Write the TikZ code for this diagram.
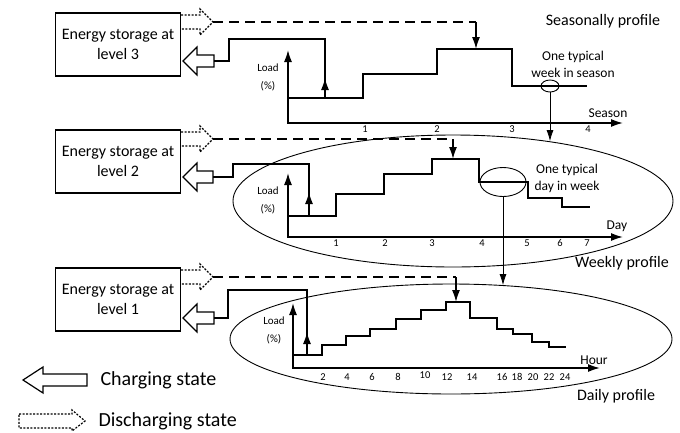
\documentclass[tikz,border=0pt]{standalone}
\usepackage{fontspec}
\setmainfont{Carlito}
\usetikzlibrary{arrows.meta,positioning,shapes.geometric}

\begin{document}
\begin{tikzpicture}[x=1pt,y=-1pt,
    store/.style={draw, line width=1.2pt, minimum width=125pt, minimum height=63pt,
                  align=center, inner sep=2pt, font=\fontsize{16}{20}\selectfont},
    tag/.style={font=\fontsize{13.5}{17}\selectfont, align=center},
    big/.style={font=\fontsize{16}{19}\selectfont},
    num/.style={font=\fontsize{10.5}{12}\selectfont, inner sep=1pt},
    yl/.style={font=\fontsize{11}{18}\selectfont, align=center},
    leg/.style={font=\fontsize{20}{24}\selectfont, anchor=west},
    ring/.style={draw, ellipse, line width=0.9pt, inner sep=0pt},
    prof/.style={line width=1.6pt},
    lax/.style={line width=1.6pt, {Latex[length=12pt,width=8pt]}-{Latex[length=12pt,width=8pt]}},
    lift/.style={line width=1.6pt, -{Latex[length=12pt,width=8pt]}},
    drop/.style={line width=0.8pt, -{Latex[length=11pt,width=7pt]}},
    feed/.style={line width=1.4pt, dash pattern=on 10pt off 6pt},
    chg/.style={line width=1.2pt},
    dis/.style={line width=1.2pt, dash pattern=on 2pt off 1.5pt}]
\useasboundingbox (0,0) rectangle (680,432);

% storage boxes
\node[store] (s3) at (118,44.5) {Energy storage at\\level 3};
\node[store] (s2) at (118,161.5) {Energy storage at\\level 2};
\node[store] (s1) at (118,299.5) {Energy storage at\\level 1};

% profile ellipses
\node[ring, minimum width=440pt, minimum height=132pt] (wk) at (453,201) {};
\node[ring, minimum width=442pt, minimum height=110pt] (dl) at (451,339) {};
\node[ring, minimum width=18pt, minimum height=12pt] (w) at (550,86) {};
\node[ring, minimum width=46pt, minimum height=29pt] (d) at (503,182) {};

% level 3: seasonally
\draw[lax] (288,50) |- (623,123);
\draw[prof] (288,98) -| (363,74) -| (437,49) -| (512,86) -- (587,86);
\draw[dis] (181,15) -- (200,15) -- (200,9) -- (213,22) -- (200,35) -- (200,29) -- (181,29);
\draw[chg] (183,61) -- (197,47) -- (197,55) -- (214,55) -- (214,67) -- (197,67) -- (197,75) -- cycle;
\coordinate (d3) at (213,22);
\coordinate (k3) at (476,22);
\coordinate (p3) at (476,49);
\coordinate (c3) at (214,61);
\coordinate (u3) at (325,98);
\draw[feed] (d3) -- (k3);
\draw[lift] (k3) -- (p3);
\draw[prof] (c3) -- ++(15,0) |- (u3 |- 0,39) -- (u3);
\draw[lift] (u3) -- ++(0,-20);

% level 2: weekly
\draw[lax] (288,173) |- (623,237);
\draw[prof] (288,216) -| (336,194) -| (384,174) -| (432,159) -| (479,182) -| (528,198) -| (562,207) -- (590,207);
\draw[dis] (181,132) -- (200,132) -- (200,126) -- (213,139) -- (200,152) -- (200,146) -- (181,146);
\draw[chg] (183,177) -- (197,163) -- (197,171) -- (213,171) -- (213,183) -- (197,183) -- (197,191) -- cycle;
\coordinate (d2) at (213,139);
\coordinate (k2) at (453,139);
\coordinate (p2) at (453,159);
\coordinate (c2) at (213,177);
\coordinate (u2) at (309,216);
\draw[feed] (d2) -- (k2);
\draw[lift] (k2) -- (p2);
\draw[prof] (c2) -- ++(20,0) |- (u2 |- 0,164) -- (u2);
\draw[lift] (u2) -- ++(0,-24);

% level 1: daily
\draw[lax] (293,303) |- (600,368);
\draw[prof] (293,355) -| (322,345) -| (346,336) -| (370,329) -| (396,319) -| (421,310) -| (446,302)
    -| (470,318) -| (497,329) -| (513,334) -| (532,342) -| (549,347) -- (566,347);
\draw[dis] (181,270) -- (200,270) -- (200,264) -- (213,277) -- (200,290) -- (200,284) -- (181,284);
\draw[chg] (183,318) -- (197,304) -- (197,312) -- (214,312) -- (214,324) -- (197,324) -- (197,332) -- cycle;
\coordinate (d1) at (213,277);
\coordinate (k1) at (456,277);
\coordinate (p1) at (456,302);
\coordinate (c1) at (214,318);
\coordinate (u1) at (307,355);
\draw[feed] (d1) -- (k1);
\draw[lift] (k1) -- (p1);
\draw[prof] (c1) -- ++(14,0) |- (u1 |- 0,290) -- (u1);
\draw[lift] (u1) -- ++(0,-23);

% typical week / day
\draw[drop] (w) -- (w |- wk.32);
\draw[drop] (d) -- (d |- dl.46);

% labels
\node[big] (sp) at (603,21) {Seasonally profile};
\node[big] (wp) at (622,263) {Weekly profile};
\node[big] (dp) at (616,396) {Daily profile};
\node[tag] (tw) at (573,64) {One typical\\week in season};
\node[tag] (td) at (567,178) {One typical\\day in week};
\node[tag] (xs) at (608,113) {Season};
\node[tag] (xd) at (617,226) {Day};
\node[tag] (xh) at (594,360) {Hour};
\node[yl] (y3) at (268,77) {Load\\(\%)};
\node[yl] (y2) at (268,200) {Load\\(\%)};
\node[yl] (y1) at (274,330) {Load\\(\%)};

% ticks
\node[num] (sa1) at (365,129) {1};
\node[num] (sa2) at (437,129) {2};
\node[num] (sa3) at (512,129) {3};
\node[num] (sa4) at (588,129) {4};
\node[num] (wd1) at (336,243) {1};
\node[num] (wd2) at (385,243) {2};
\node[num] (wd3) at (432,243) {3};
\node[num] (wd4) at (482,243) {4};
\node[num] (wd5) at (527,243) {5};
\node[num] (wd6) at (560,243) {6};
\node[num] (wd7) at (587,243) {7};
\node[num] (hr2) at (323,377) {2};
\node[num] (hr4) at (347,377) {4};
\node[num] (hr6) at (372,377) {6};
\node[num] (hr8) at (398,377) {8};
\node[num] (hr10) at (425,375) {10};
\node[num] (hr12) at (447,377) {12};
\node[num] (hr14) at (472,377) {14};
\node[num] (hr16) at (502,377) {16};
\node[num] (hr18) at (517,377) {18};
\node[num] (hr20) at (533,377) {20};
\node[num] (hr22) at (549,377) {22};
\node[num] (hr24) at (565,377) {24};

% legend
\draw[chg] (23,380) -- (43,367) -- (43,374) -- (87,374) -- (87,386) -- (43,386) -- (43,393) -- cycle;
\node[leg] (lc) at (97,380) {Charging state};
\draw[dis] (19,414) -- (72,414) -- (72,410) -- (85,421) -- (72,431) -- (72,428) -- (19,428) -- cycle;
\node[leg] (ld) at (95,421) {Discharging state};
\end{tikzpicture}
\end{document}
